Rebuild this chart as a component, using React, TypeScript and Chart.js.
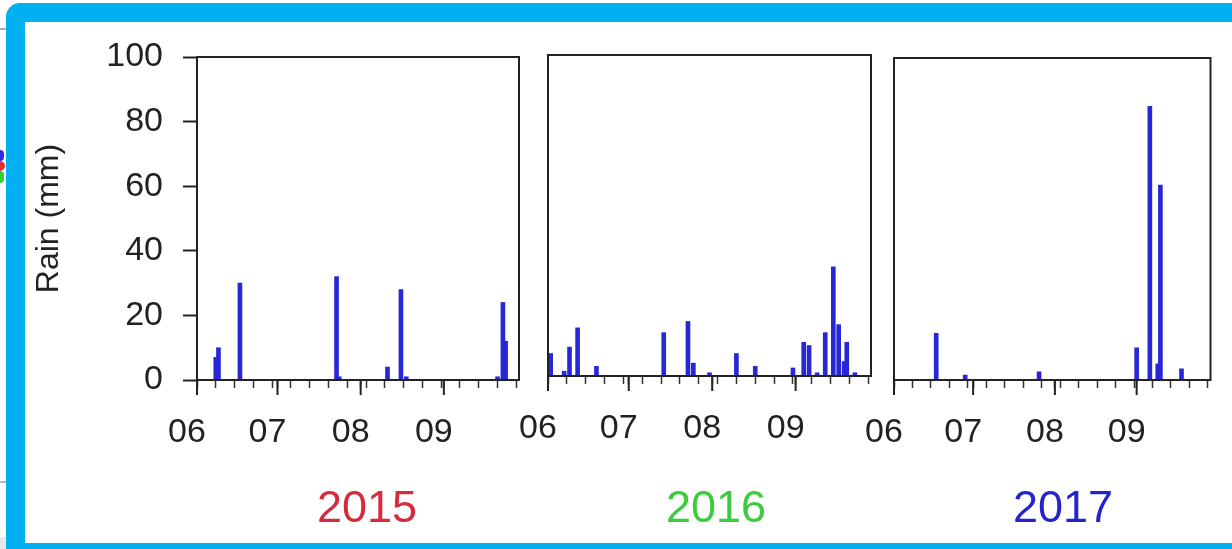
import React, { useEffect, useRef } from 'react';
import { Chart, registerables } from 'chart.js';

Chart.register(...registerables);

// ---- data (day index counted from 1 June) ----
const MONTH_TICK_DAYS = [0, 30, 61, 92];
const MONTH_LABELS = ['06', '07', '08', '09'];
const WEEK_TICK_DAYS = [0, 7, 14, 21, 28, 35, 42, 49, 56, 63, 70, 77, 84, 91, 98, 105, 112, 119];
const Y_TICKS = [0, 20, 40, 60, 80, 100];

const DAYS_2015 = [7, 8, 16, 52, 53, 71, 76, 78, 112, 114, 115];
const RAIN_2015 = [7, 10, 30, 32, 1, 4, 28, 1, 1, 24, 12];

const DAYS_2016 = [1, 6, 8, 11, 18, 43, 52, 54, 60, 70, 77, 91, 95, 97, 100, 103, 106, 108, 110, 111, 114];
const RAIN_2016 = [7, 1.5, 9, 15, 3, 13.5, 17, 4, 1, 7, 3, 2.5, 10.5, 9.5, 1, 13.5, 34, 16, 4.5, 10.5, 1];

const DAYS_2017 = [16, 27, 55, 92, 97, 100, 101, 109];
const RAIN_2017 = [14.5, 1.5, 2.5, 10, 85, 5, 60.5, 3.5];

const YEARS = ['2015', '2016', '2017'];
const YEAR_COLORS = ['#d42c3c', '#3ccb3c', '#2424cc'];
const Y_TITLE = 'Rain (mm)';

const SERIES = [
  { days: DAYS_2015, rain: RAIN_2015 },
  { days: DAYS_2016, rain: RAIN_2016 },
  { days: DAYS_2017, rain: RAIN_2017 },
];

// ---- layout / style ----
const W = 1232;
const H = 549;
const FONT = "'Liberation Sans', Arial, Helvetica, sans-serif";
const BAR_COLOR = '#2727d8';
const INK = '#222222';
const PANELS = [
  { left: 197, right: 519, top: 57, bottom: 380, showY: true, labelX: 367 },
  { left: 548, right: 871, top: 55, bottom: 376, showY: false, labelX: 716 },
  { left: 894, right: 1217, top: 58, bottom: 380, showY: false, labelX: 1063 },
];

const boxPlugin = {
  id: 'panelBox',
  afterDatasetsDraw(chart: any) {
    const { ctx, chartArea } = chart;
    const x = chart.scales.x;
    ctx.save();
    ctx.strokeStyle = INK;
    ctx.lineWidth = 2;
    ctx.strokeRect(chartArea.left, chartArea.top, chartArea.right - chartArea.left, chartArea.bottom - chartArea.top);
    // longer month ticks
    ctx.lineWidth = 2;
    MONTH_TICK_DAYS.forEach((d) => {
      const px = x.getPixelForValue(d);
      ctx.beginPath();
      ctx.moveTo(px, chartArea.bottom);
      ctx.lineTo(px, chartArea.bottom + 15);
      ctx.stroke();
    });
    ctx.restore();
  },
};

function Panel({ idx }: { idx: number }) {
  const ref = useRef<HTMLCanvasElement | null>(null);
  useEffect(() => {
    const p = PANELS[idx];
    const s = SERIES[idx];
    const allTicks = Array.from(new Set([...WEEK_TICK_DAYS, ...MONTH_TICK_DAYS])).sort((a, b) => a - b);
    const chart = new Chart(ref.current as HTMLCanvasElement, {
      type: 'bar',
      data: {
        datasets: [
          {
            data: s.days.map((d, i) => ({ x: d, y: s.rain[i] })),
            backgroundColor: BAR_COLOR,
            borderWidth: 0,
            barThickness: 4,
          } as any,
        ],
      },
      options: {
        animation: false,
        responsive: false,
        maintainAspectRatio: false,
        devicePixelRatio: 1,
        layout: {
          padding: { left: p.showY ? 30 : p.left, right: W - p.right, top: p.top, bottom: 0 },
        },
        plugins: {
          legend: { display: false },
          tooltip: { enabled: false },
          title: { display: false },
        },
        scales: {
          x: {
            type: 'linear',
            min: 0,
            max: 120,
            offset: false,
            grid: {
              offset: false,
              drawOnChartArea: false,
              drawTicks: true,
              tickLength: 8,
              tickColor: '#333',
              tickWidth: 1.5,
            },
            border: { display: true, color: INK, width: 2 },
            ticks: {
              autoSkip: false,
              maxRotation: 0,
              minRotation: 0,
              padding: 24,
              labelOffset: -10,
              color: INK,
              font: { family: FONT, size: 34 },
              callback: (v: any) => {
                const i = MONTH_TICK_DAYS.indexOf(Number(v));
                return i >= 0 ? MONTH_LABELS[i] : '';
              },
            },
            afterBuildTicks: (sc: any) => {
              sc.ticks = allTicks.map((v) => ({ value: v }));
            },
            afterFit: (sc: any) => {
              sc.height = H - p.bottom;
            },
          } as any,
          y: {
            type: 'linear',
            min: 0,
            max: 100,
            display: p.showY,
            grid: {
              drawOnChartArea: false,
              drawTicks: true,
              tickLength: 14,
              tickColor: INK,
              tickWidth: 2,
            },
            border: { display: true, color: INK, width: 2 },
            ticks: {
              autoSkip: false,
              padding: 20,
              color: INK,
              font: { family: FONT, size: 34 },
            },
            title: {
              display: p.showY,
              text: Y_TITLE,
              color: INK,
              font: { family: FONT, size: 32 },
              padding: 0,
            },
            afterBuildTicks: (sc: any) => {
              sc.ticks = Y_TICKS.map((v) => ({ value: v }));
            },
            afterFit: (sc: any) => {
              if (p.showY) sc.width = p.left - 30;
            },
          } as any,
        },
      },
      plugins: [boxPlugin],
    });
    return () => chart.destroy();
  }, [idx]);
  return (
    <canvas
      ref={ref}
      width={W}
      height={H}
      style={{ position: 'absolute', left: 0, top: 0, width: W, height: H }}
    />
  );
}

export default function App() {
  return (
    <div
      style={{
        position: 'absolute',
        left: 0,
        top: 0,
        width: W,
        height: H,
        overflow: 'hidden',
        background: '#ffffff',
        fontFamily: FONT,
      }}
    >
      {/* page fragments outside the frame */}
      <div style={{ position: 'absolute', left: 0, top: 28, width: 7, height: 2, background: '#b0b0b0' }} />
      <div style={{ position: 'absolute', left: 0, top: 481, width: 7, height: 2, background: '#b8b8b8' }} />
      <div style={{ position: 'absolute', left: 0, top: 537, width: 7, height: 12, background: '#e4e8ee' }} />
      <div style={{ position: 'absolute', left: 0, top: 150, width: 4, height: 11, background: '#2a2ae0', borderRadius: '0 6px 6px 0' }} />
      <div style={{ position: 'absolute', left: 0, top: 161, width: 5, height: 10, background: '#e03030', borderRadius: '0 6px 6px 0' }} />
      <div style={{ position: 'absolute', left: 0, top: 171, width: 4, height: 12, background: '#30d030', borderRadius: '0 6px 6px 0' }} />
      {/* blue frame */}
      <div
        style={{
          position: 'absolute',
          left: 6,
          top: 3,
          width: W + 40,
          height: H + 10,
          boxSizing: 'border-box',
          border: '19px solid #00b0f0',
          borderBottomWidth: 19,
          borderRadius: 14,
        }}
      />
      {PANELS.map((_, i) => (
        <Panel key={i} idx={i} />
      ))}
      {YEARS.map((y, i) => (
        <div
          key={y}
          style={{
            position: 'absolute',
            left: PANELS[i].labelX,
            top: 484,
            transform: 'translateX(-50%)',
            fontSize: 45,
            lineHeight: '45px',
            color: YEAR_COLORS[i],
            whiteSpace: 'nowrap',
          }}
        >
          {y}
        </div>
      ))}
    </div>
  );
}
